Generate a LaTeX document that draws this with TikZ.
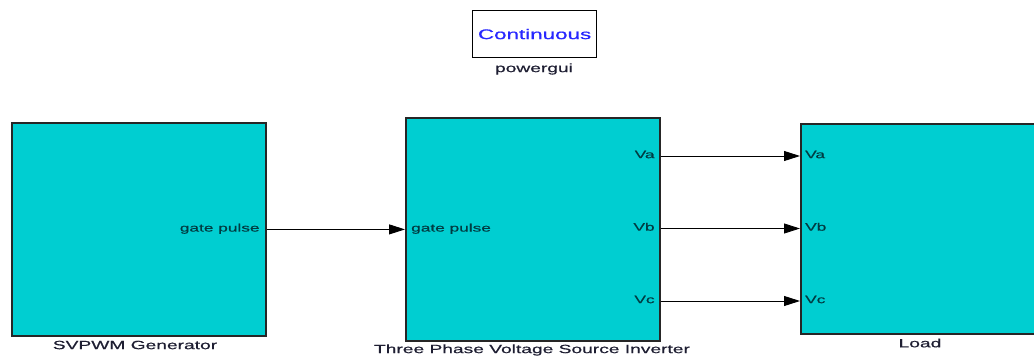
\documentclass[tikz,border=0pt]{standalone}
\usepackage{fontspec}
\usetikzlibrary{arrows.meta}
\newfontfamily\widesans[FakeStretch=1.6,FakeBold=0.6]{Liberation Sans}
\definecolor{blockcyan}{RGB}{0,206,209}
\definecolor{porttext}{RGB}{0,60,66}
\definecolor{labeltext}{RGB}{30,30,50}
\definecolor{guiblue}{RGB}{40,40,255}
\begin{document}
\begin{tikzpicture}[x=1pt,y=-1pt,
  block/.style={draw=black!85,line width=1.8pt,fill=blockcyan,inner sep=0pt,anchor=north west},
  porttxt/.style={font=\widesans\fontsize{10.8}{12}\selectfont,text=porttext,inner sep=0pt},
  blocklabel/.style={font=\widesans\fontsize{12}{14}\selectfont,text=labeltext,inner sep=0pt},
  sig/.style={draw=black,line width=0.9pt,-{Triangle[length=16pt,width=10pt]}}]
\useasboundingbox (0,0) rectangle (1034,356);
% powergui
\node[draw=black,line width=1.2pt,fill=white,minimum width=124pt,minimum height=47pt,inner sep=0pt,anchor=north west,
  font=\widesans\fontsize{14}{16}\selectfont,text=guiblue] (gui) at (472,10) {Continuous};
\node[blocklabel] (guilbl) at (534,69) {powergui};
% blocks
\node[block,minimum width=254pt,minimum height=213pt] (svpwm) at (11,122) {};
\node[block,minimum width=254pt,minimum height=223pt] (inv) at (405,117) {};
\node[block,minimum width=234pt,minimum height=210pt] (load) at (800,123) {};
% block labels
\node[blocklabel] (svlbl) at (135,345) {SVPWM Generator};
\node[blocklabel] (invlbl) at (532,350) {Three Phase Voltage Source Inverter};
\node[blocklabel] (loadlbl) at (920,343) {Load};
% port rows
\coordinate (ya) at (0,156);
\coordinate (yb) at (0,228.5);
\coordinate (yc) at (0,301);
% port labels
\node[porttxt,anchor=mid east] (svgp) at ([xshift=-7pt]svpwm.east) {gate pulse};
\node[porttxt,anchor=mid west] (invgp) at ([xshift=6pt]inv.west) {gate pulse};
\node[porttxt,anchor=mid east] (inva) at ([xshift=-6pt]inv.east |- ya) {Va};
\node[porttxt,anchor=mid east] (invb) at ([xshift=-6pt]inv.east |- yb) {Vb};
\node[porttxt,anchor=mid east] (invc) at ([xshift=-6pt]inv.east |- yc) {Vc};
\node[porttxt,anchor=mid west] (lda) at ([xshift=5pt]load.west |- ya) {Va};
\node[porttxt,anchor=mid west] (ldb) at ([xshift=5pt]load.west |- yb) {Vb};
\node[porttxt,anchor=mid west] (ldc) at ([xshift=5pt]load.west |- yc) {Vc};
% connectors
\draw[sig] (svpwm.east) -- (inv.west);
\draw[sig] (inv.east |- ya) -- (load.west |- ya);
\draw[sig] (inv.east |- yb) -- (load.west |- yb);
\draw[sig] (inv.east |- yc) -- (load.west |- yc);
\end{tikzpicture}
\end{document}
